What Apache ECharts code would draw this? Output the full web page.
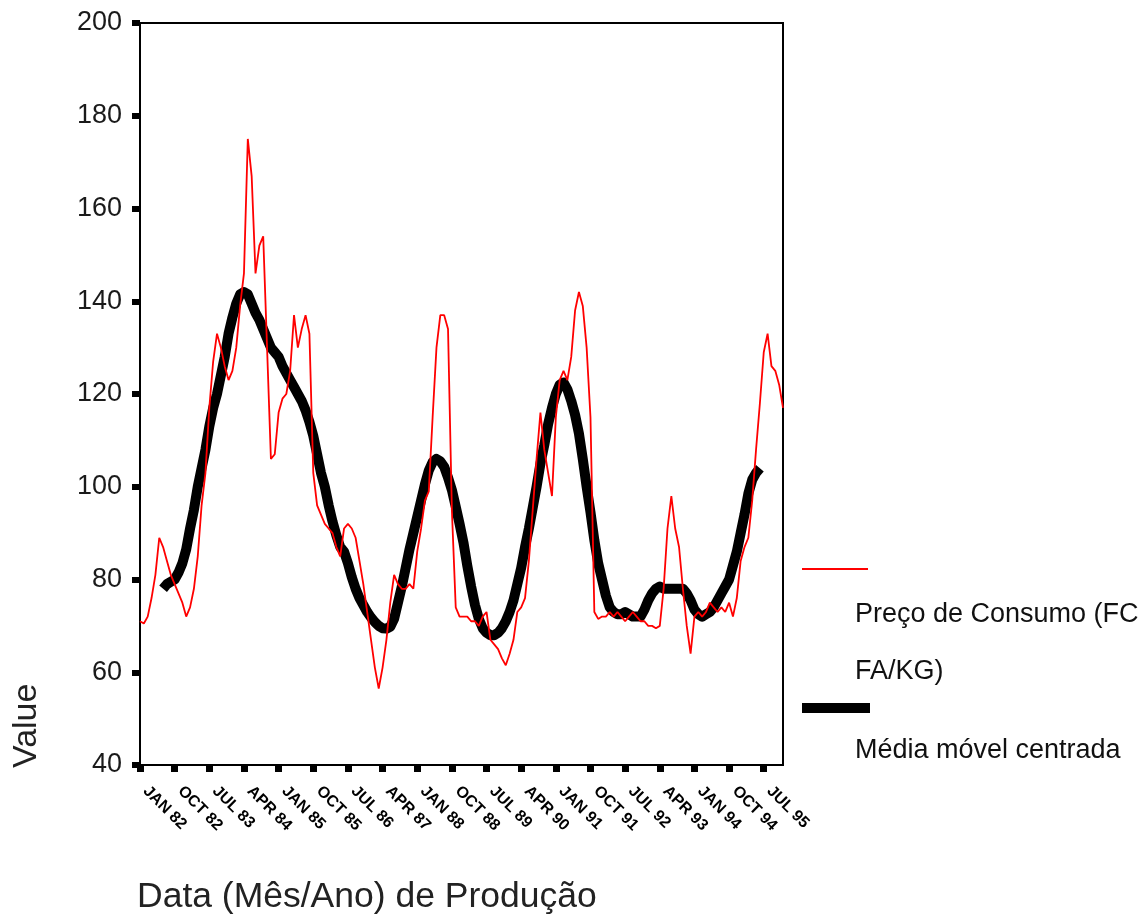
<!DOCTYPE html>
<html>
<head>
<meta charset="utf-8">
<script src="https://cdn.jsdelivr.net/npm/echarts@6/dist/echarts.min.js"></script>
<style>
html,body{margin:0;padding:0;background:#ffffff;}
#chart{width:1144px;height:919px;}
</style>
</head>
<body>
<div id="chart"></div>
<script>
// ---- categories (monthly, JAN 82 .. DEC 95) ----
const monthNames = ['JAN','FEB','MAR','APR','MAY','JUN','JUL','AUG','SEP','OCT','NOV','DEC'];
const years = ['82','83','84','85','86','87','88','89','90','91','92','93','94','95'];
const categories = [];
years.forEach(function (y) { monthNames.forEach(function (m) { categories.push(m + ' ' + y); }); });

// ---- tick labels shown on the x axis ----
const tickLabels = ['JAN 82','OCT 82','JUL 83','APR 84','JAN 85','OCT 85','JUL 86','APR 87','JAN 88',
  'OCT 88','JUL 89','APR 90','JAN 91','OCT 91','JUL 92','APR 93','JAN 94','OCT 94','JUL 95'];

// ---- Preço de Consumo (FCFA/KG), one array per year ----
const price1982 = [71, 70.5, 72, 76, 81, 89, 87, 84, 81, 79, 77, 75];
const price1983 = [72, 74, 78, 85, 96, 103, 117, 127, 133, 130, 126, 123];
const price1984 = [125, 130, 139, 146, 175, 167, 146, 152, 154, 130, 106, 107];
const price1985 = [116, 119, 120, 125, 137, 130, 134, 137, 133, 103, 96, 94];
const price1986 = [92, 91, 90, 87, 85, 91, 92, 91, 89, 84, 79, 73];
const price1987 = [67, 61, 56.5, 61, 67, 75, 81, 79, 78, 78, 79, 78];
const price1988 = [86, 91, 97, 99, 115, 130, 137, 137, 134, 95, 74, 72];
const price1989 = [72, 72, 71, 71, 70, 72, 73, 67, 66, 65, 63, 61.5];
const price1990 = [64, 67, 73, 74, 76, 84, 95, 106, 116, 108, 103, 98];
const price1991 = [115, 123, 125, 123, 128, 138, 142, 139, 130, 115, 73, 71.5];
const price1992 = [72, 72, 73, 72, 73, 72, 71, 72, 73, 72, 71, 71];
const price1993 = [70, 70, 69.5, 70, 78, 91, 98, 91, 87, 78, 70, 64];
const price1994 = [72, 73, 72, 73, 75, 74, 73, 74, 73, 75, 72, 76];
const price1995 = [84, 87, 89, 97, 108, 118, 129, 133, 126, 125, 122, 117];

// ---- Média móvel centrada (starts JUL 82, ends JUL 95) ----
const maStartIndex = 6;
const ma1982 = [78, 79, 79.5, 80, 81.5, 83.5];
const ma1983 = [86.5, 91, 95, 100, 104, 108, 113, 117, 120, 124, 128, 133];
const ma1984 = [136.5, 139.5, 141.5, 142, 141.5, 139.5, 137.5, 136, 134, 132, 130, 129];
const ma1985 = [128, 126, 124.5, 123, 121.5, 120, 118.5, 116.5, 114, 111, 107, 103];
const ma1986 = [100, 96, 92.5, 89.5, 87, 86, 83.5, 80.5, 78, 76, 74.5, 73];
const ma1987 = [71.8, 70.8, 70, 69.5, 69.4, 69.8, 71.5, 75, 78.5, 82.5, 86.5, 90];
const ma1988 = [93.5, 97, 100.5, 103.5, 105.3, 106, 105.5, 104.3, 102, 99.3, 95.7, 92];
const ma1989 = [88, 83, 78.5, 74.5, 71.5, 69.5, 68.5, 68, 68, 68.5, 69.5, 71];
const ma1990 = [73, 75.5, 79, 82.5, 87, 91, 95.5, 100, 105, 109, 113.5, 117];
const ma1991 = [120, 122, 122.5, 121, 118.5, 115.5, 111.5, 106, 100, 94.5, 88.5, 83.5];
const ma1992 = [80, 76.5, 74, 73, 72.5, 72.5, 73, 72.5, 72, 72, 72, 73.5];
const ma1993 = [75.5, 77, 78, 78.5, 78, 78, 78, 78, 78, 78, 77, 75.5];
const ma1994 = [73.5, 72.5, 72, 72.5, 73, 74, 75.5, 77, 78.5, 80, 83, 86];
const ma1995 = [90, 94, 98.5, 101.5, 103, 104];

const priceValues = [].concat(price1982, price1983, price1984, price1985, price1986, price1987, price1988,
  price1989, price1990, price1991, price1992, price1993, price1994, price1995);
const maValues = [].concat(ma1982, ma1983, ma1984, ma1985, ma1986, ma1987, ma1988,
  ma1989, ma1990, ma1991, ma1992, ma1993, ma1994, ma1995);
const maData = categories.map(function (c, i) {
  const k = i - maStartIndex;
  return (k >= 0 && k < maValues.length) ? maValues[k] : null;
});

const FONT = '"Liberation Sans", Arial, Helvetica, sans-serif';
const isTick = function (index, value) { return tickLabels.indexOf(value) !== -1; };

const chart = echarts.init(document.getElementById('chart'), null, { renderer: 'canvas' });
chart.setOption({
  animation: false,
  backgroundColor: '#ffffff',
  grid: { left: 140, right: 361, top: 23, bottom: 154, show: true, borderColor: '#000', borderWidth: 2, backgroundColor: 'transparent' },
  xAxis: {
    type: 'category',
    data: categories,
    boundaryGap: false,
    axisLine: { lineStyle: { color: '#000', width: 2 } },
    axisTick: { show: true, interval: isTick, length: 7, lineStyle: { color: '#000', width: 7 } },
    axisLabel: { interval: isTick, rotate: -45, margin: 18, padding: [0, 0, 0, 8], fontSize: 16, fontWeight: 'bold', color: '#000', fontFamily: FONT },
    splitLine: { show: false }
  },
  yAxis: {
    type: 'value',
    min: 40, max: 200, interval: 20,
    axisLine: { show: true, lineStyle: { color: '#000', width: 2 } },
    axisTick: { show: true, length: 8, lineStyle: { color: '#000', width: 6 } },
    axisLabel: { margin: 18, fontSize: 27, color: '#1a1a1a', fontFamily: FONT },
    splitLine: { show: false }
  },
  series: [
    {
      name: 'Média móvel centrada',
      type: 'line',
      data: maData,
      symbol: 'none',
      connectNulls: false,
      lineStyle: { color: '#000000', width: 10, cap: 'butt', join: 'round' },
      z: 2
    },
    {
      name: 'Preço de Consumo (FCFA/KG)',
      type: 'line',
      data: priceValues,
      symbol: 'none',
      lineStyle: { color: '#ff0000', width: 1.8 },
      z: 3
    }
  ],
  graphic: [
    { type: 'line', shape: { x1: 802, y1: 569, x2: 868, y2: 569 }, style: { stroke: '#ff0000', lineWidth: 2 } },
    { type: 'text', x: 855, y: 615, style: { text: 'Preço de Consumo (FC', fontSize: 27, fontFamily: FONT, fill: '#111', align: 'left', verticalAlign: 'middle' } },
    { type: 'text', x: 855, y: 672, style: { text: 'FA/KG)', fontSize: 27, fontFamily: FONT, fill: '#111', align: 'left', verticalAlign: 'middle' } },
    { type: 'line', shape: { x1: 802, y1: 708, x2: 870, y2: 708 }, style: { stroke: '#000000', lineWidth: 10 } },
    { type: 'text', x: 855, y: 751, style: { text: 'Média móvel centrada', fontSize: 27, fontFamily: FONT, fill: '#111', align: 'left', verticalAlign: 'middle' } },
    { type: 'text', x: 44, y: 768, rotation: Math.PI / 2, style: { text: 'Value', fontSize: 34, fontFamily: FONT, fill: '#222', align: 'left', verticalAlign: 'bottom' } },
    { type: 'text', x: 137, y: 897, style: { text: 'Data (Mês/Ano) de Produção', fontSize: 35.5, fontFamily: FONT, fill: '#222', align: 'left', verticalAlign: 'middle' } }
  ]
});
</script>
</body>
</html>
